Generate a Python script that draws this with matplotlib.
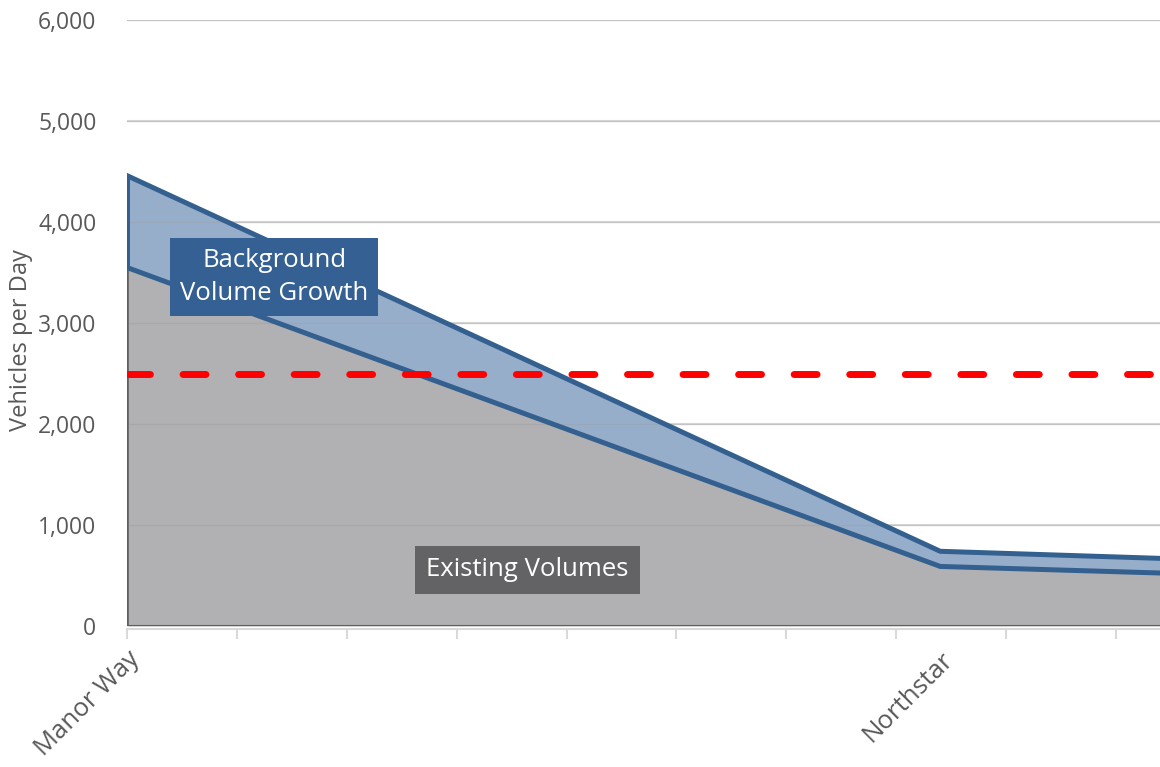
import matplotlib.pyplot as plt

# corridor position (tick units) and daily volumes
dist = [0, 7.4, 9.4]
existing = [3550, 590, 525]
total = [4460, 740, 670]

place_pos = [0, 7.4]
place_names = ['Manor Way', 'Northstar']

threshold = 2500

plt.rcParams['font.family'] = ['Open Sans', 'DejaVu Sans']

fig = plt.figure(figsize=(11.6, 7.67), dpi=100)
ax = fig.add_axes([0.1095, 0.1838, 0.8905, 0.7900])

grid_c = '#d9d9d9'
text_c = '#595959'
blue_line = '#34608f'
blue_fill = '#97aeca'
gray_fill = '#b1b1b3'
gray_edge = '#606062'

ax.set_ylim(0, 6000)
ax.set_xlim(0, 9.4)
ax.set_yticks(range(0, 6001, 1000))
ax.yaxis.set_major_formatter(plt.FuncFormatter(lambda v, p: f'{int(v):,}'))
ax.grid(axis='y', color=grid_c, lw=1.5, zorder=0)
ax.set_axisbelow(True)

ax.fill_between(dist, 0, existing, color=gray_fill, lw=0, zorder=1)
ax.fill_between(dist, existing, total, color=blue_fill, lw=0, zorder=1)
# gridlines stay faintly visible through the fills
for v in range(1000, 6001, 1000):
    ax.axhline(v, color='#9a9a9c', lw=1, alpha=0.35, zorder=1.5)

ax.plot([0, 0], [0, existing[0]], color=gray_edge, lw=2.6, zorder=2)
ax.plot([0, dist[-1]], [0, 0], color=gray_edge, lw=1.5, zorder=2)
ax.plot([0, 0], [existing[0], total[0]], color=blue_line, lw=3.6, zorder=3,
        solid_capstyle='butt')
ax.plot(dist, existing, color=blue_line, lw=3.6, zorder=3)
ax.plot(dist, total, color=blue_line, lw=3.6, zorder=3)

ax.axhline(threshold, color='#ff0000', lw=5, dashes=(3.3, 4.7),
           dash_capstyle='round', zorder=4)

ax.text(1.34, 3455, 'Background\nVolume Growth', color='white', fontsize=18.5,
        ha='center', va='center', linespacing=1.45, zorder=5,
        bbox=dict(boxstyle='square,pad=0.38', fc='#346093', ec='none'))
ax.text(3.645, 555, 'Existing Volumes', color='white', fontsize=18.5,
        ha='center', va='center', zorder=5,
        bbox=dict(boxstyle='square,pad=0.45', fc='#636366', ec='none'))

for s in ['top', 'right', 'left']:
    ax.spines[s].set_visible(False)
ax.spines['bottom'].set_color(grid_c)
ax.spines['bottom'].set_linewidth(1.5)
ax.spines['bottom'].set_position(('outward', 2))

ax.xaxis.remove_overlapping_locs = False
ax.set_xticks(place_pos)
ax.set_xticklabels(place_names, rotation=45, ha='right', va='top',
                   rotation_mode='anchor', fontsize=18.5, color=text_c)
ax.tick_params(axis='x', which='major', length=0, pad=13)
ax.set_xticks(range(0, 10), minor=True)
ax.tick_params(axis='x', which='minor', length=7, width=1.5, color=grid_c)

ax.tick_params(axis='y', length=0, pad=22, labelsize=16.5, labelcolor=text_c)
ax.set_ylabel('Vehicles per Day', fontsize=17, color=text_c)
ax.yaxis.set_label_coords(-0.091, 0.472)

fig.savefig('out.png', dpi=100)
